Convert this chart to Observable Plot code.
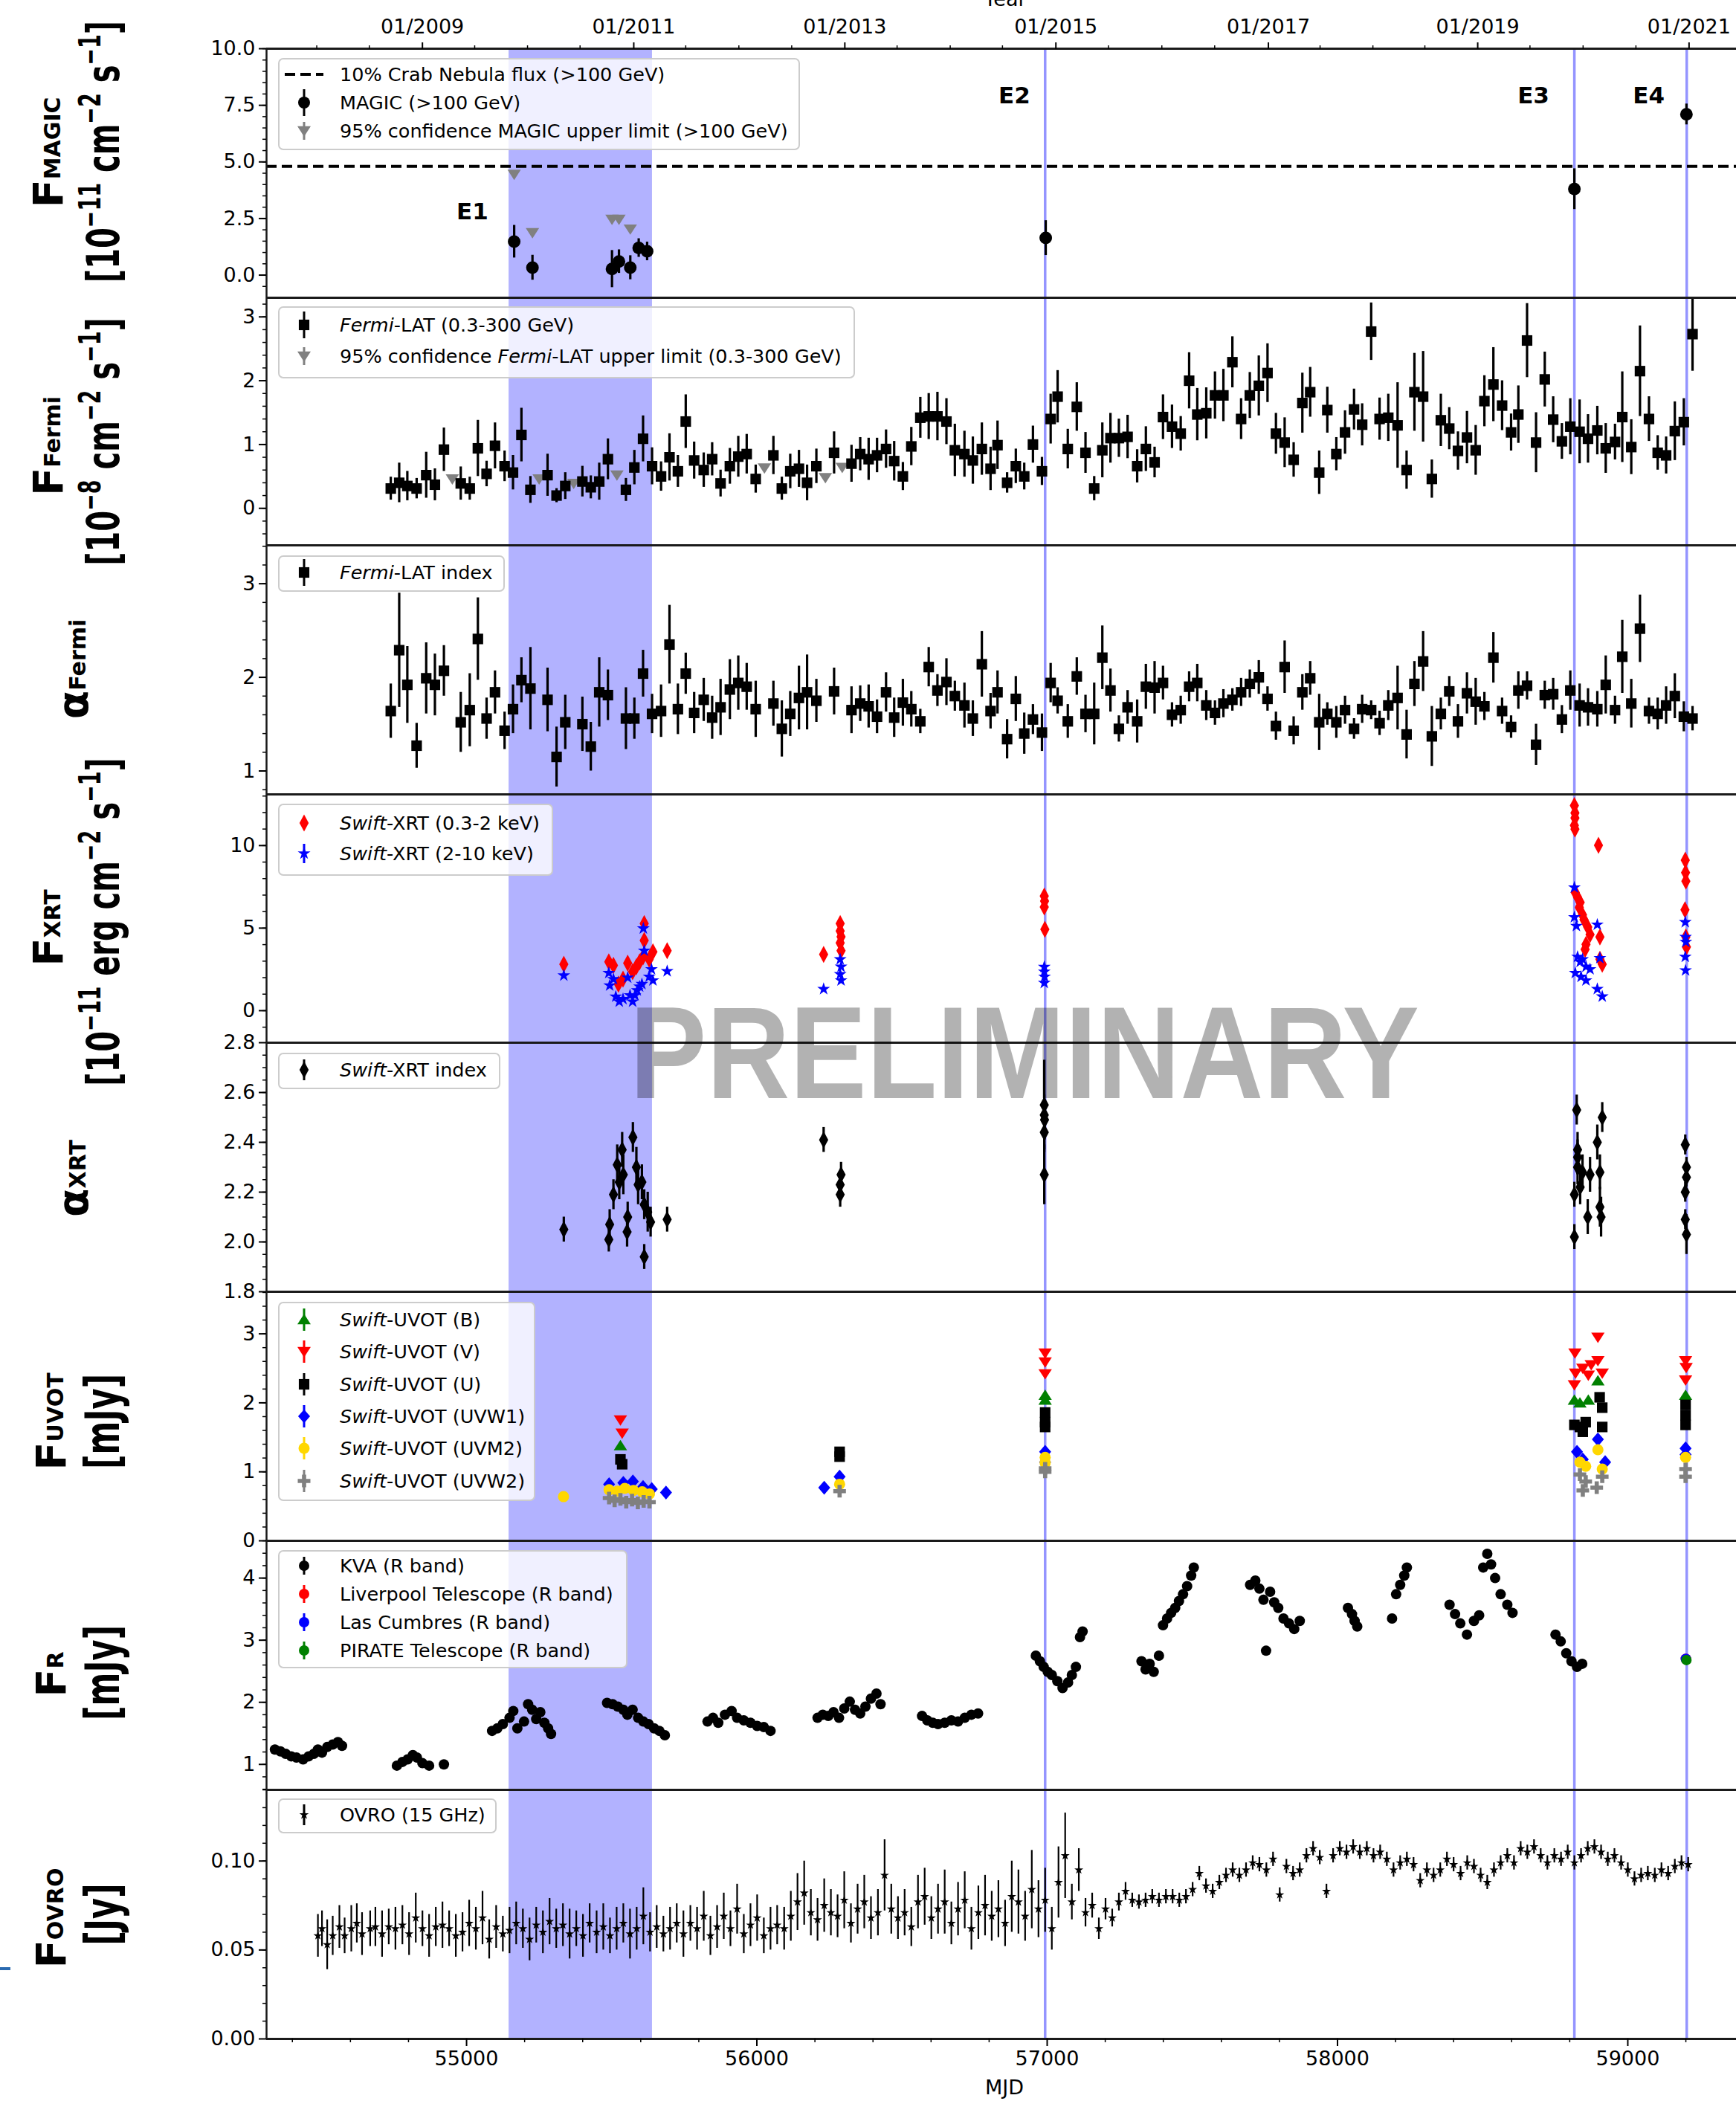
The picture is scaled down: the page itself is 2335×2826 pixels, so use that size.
<!DOCTYPE html>
<html>
<head>
<meta charset="utf-8">
<script src="https://cdn.jsdelivr.net/npm/d3@7"></script>
<script src="https://cdn.jsdelivr.net/npm/@observablehq/plot@0.6"></script>
<style>
html,body{margin:0;padding:0;background:#fff;}
#wrap{position:relative;width:2335px;height:2826px;overflow:hidden;background:#fff;}
#wrap > svg{display:block;}
</style>
</head>
<body>
<div id="wrap"></div>
<script>
// ================= DATA =================
const X_DOMAIN = [54311, 59374];
const E1_BAND = [55146, 55640];
const EVENT_MJD = [56993, 58816, 59203];
const eventNames = ["E1", "E2", "E3", "E4"];
const eventLabelMjd = [55020, 56887, 58675, 59072];
const eventLabelY = [2.8, 7.9, 7.9, 7.9];

// top (year) axis, positions
const yearTickMjd = [54848, 55576, 56303, 57030, 57762, 58483, 59211];
const yearTickLabels = ["01/2009", "01/2011", "01/2013", "01/2015", "01/2017", "01/2019", "01/2021"];
const halfYearMjd = [54484, 54665, 55028, 55210, 55391, 55755, 55938, 56120, 56483, 56666, 56846, 57211, 57395, 57577, 57940, 58122, 58301, 58663, 58846, 59028];
const mjdTicks = [55000, 56000, 57000, 58000, 59000];
const mjdMinor = [54400, 54600, 54800, 55200, 55400, 55600, 55800, 56200, 56400, 56600, 56800, 57200, 57400, 57600, 57800, 58200, 58400, 58600, 58800, 59200];

// Panel 1: MAGIC
const crabLevel = 4.8;
const magicMjd = [55164, 55227, 55501, 55525, 55564, 55593, 55622, 56995, 58816, 59202];
const magicFlux = [1.48, 0.33, 0.27, 0.60, 0.33, 1.20, 1.05, 1.64, 3.80, 7.10];
const magicErr = [0.72, 0.55, 0.82, 0.52, 0.53, 0.41, 0.41, 0.77, 0.90, 0.46];
const magicUlMjd = [55164, 55227, 55501, 55525, 55564];
const magicUl = [4.45, 1.87, 2.46, 2.46, 2.03];

// Panels 2-3: Fermi-LAT
const fermiMjd = [54739, 54768, 54796, 54828, 54861, 54891, 54922, 54980, 55011, 55039, 55069, 55098, 55131, 55160, 55189, 55220, 55279, 55310, 55340, 55399, 55428, 55457, 55487, 55549, 55578, 55608, 55639, 55670, 55699, 55728, 55755, 55784, 55817, 55846, 55875, 55907, 55936, 55965, 55996, 56057, 56086, 56115, 56145, 56173, 56205, 56266, 56326, 56356, 56385, 56414, 56445, 56473, 56503, 56532, 56563, 56592, 56622, 56653, 56682, 56715, 56744, 56775, 56805,
  56829, 56862, 56892, 56921, 56951, 56982, 57012, 57036, 57071, 57102, 57132, 57162, 57190, 57218, 57247, 57277, 57310, 57340, 57370, 57399, 57430, 57460, 57489, 57517, 57548, 57578, 57607, 57638, 57668, 57698, 57729, 57759, 57788, 57818, 57849, 57879, 57906, 57937, 57965, 57996, 58026, 58057, 58085, 58116, 58145, 58175, 58207, 58238, 58265, 58295, 58325, 58356, 58385, 58415, 58446, 58476, 58506, 58537, 58567, 58598, 58623, 58653, 58684, 58714, 58743, 58773, 58802, 58834, 58863, 58895, 58924, 58956, 58981, 59012, 59042, 59073, 59103, 59132, 59162, 59193, 59223];
const fermiFlux = [0.31, 0.40, 0.35, 0.31, 0.52, 0.37, 0.92, 0.39, 0.31, 0.94, 0.54, 0.98, 0.66, 0.56, 1.15, 0.29, 0.52, 0.20, 0.35, 0.42, 0.33, 0.42, 0.77, 0.29, 0.64, 1.09, 0.66, 0.50, 0.80, 0.58, 1.36, 0.75, 0.60, 0.77, 0.39, 0.66, 0.81, 0.85, 0.46, 0.83, 0.31, 0.58, 0.62, 0.40, 0.66, 0.87, 0.70, 0.85, 0.77, 0.83, 0.93, 0.74, 0.50, 0.97, 1.42, 1.44, 1.44, 1.36, 0.91, 0.85, 0.75, 0.93, 0.62,
  0.99, 0.40, 0.66, 0.50, 1.00, 0.58, 1.40, 1.75, 0.93, 1.59, 0.87, 0.31, 0.91, 1.10, 1.10, 1.12, 0.66, 0.93, 0.72, 1.43, 1.28, 1.17, 2.00, 1.47, 1.49, 1.77, 1.77, 2.29, 1.40, 1.77, 1.92, 2.12, 1.17, 1.03, 0.76, 1.65, 1.82, 0.56, 1.54, 0.85, 1.19, 1.55, 1.31, 2.77, 1.40, 1.42, 1.30, 0.60, 1.82, 1.75, 0.46, 1.38, 1.25, 0.90, 1.11, 0.91, 1.68, 1.94, 1.61, 1.19, 1.47, 2.63, 1.03, 2.02, 1.39, 1.05, 1.28, 1.20, 1.09, 1.22, 0.94, 1.04, 1.43, 0.96, 2.15, 1.40, 0.87, 0.83, 1.21, 1.35, 2.73];
const fermiFluxErr = [0.18, 0.31, 0.23, 0.16, 0.36, 0.25, 0.34, 0.26, 0.18, 0.44, 0.20, 0.36, 0.24, 0.27, 0.42, 0.21, 0.33, 0.11, 0.21, 0.24, 0.18, 0.29, 0.32, 0.18, 0.27, 0.36, 0.29, 0.23, 0.37, 0.25, 0.42, 0.29, 0.27, 0.26, 0.21, 0.28, 0.32, 0.31, 0.22, 0.30, 0.18, 0.27, 0.29, 0.28, 0.27, 0.33, 0.29, 0.26, 0.33, 0.27, 0.30, 0.31, 0.22, 0.30, 0.32, 0.36, 0.38, 0.36, 0.41, 0.36, 0.37, 0.41, 0.34,
  0.38, 0.16, 0.27, 0.21, 0.29, 0.22, 0.39, 0.41, 0.31, 0.38, 0.32, 0.19, 0.43, 0.39, 0.30, 0.34, 0.26, 0.35, 0.24, 0.35, 0.34, 0.27, 0.44, 0.41, 0.40, 0.37, 0.41, 0.40, 0.32, 0.36, 0.47, 0.46, 0.32, 0.39, 0.27, 0.47, 0.39, 0.34, 0.36, 0.26, 0.34, 0.32, 0.33, 0.45, 0.33, 0.37, 0.67, 0.30, 0.61, 0.71, 0.30, 0.41, 0.33, 0.30, 0.41, 0.39, 0.40, 0.58, 0.39, 0.29, 0.45, 0.58, 0.47, 0.43, 0.36, 0.28, 0.44, 0.50, 0.38, 0.38, 0.39, 0.28, 0.71, 0.43, 0.71, 0.35, 0.27, 0.29, 0.46, 0.37, 0.58];
const fermiIndex = [1.64, 2.29, 1.92, 1.27, 1.99, 1.92, 2.07, 1.52, 1.65, 2.41, 1.56, 1.84, 1.43, 1.66, 1.97, 1.88, 1.76, 1.15, 1.52, 1.50, 1.26, 1.84, 1.81, 1.56, 1.56, 2.04, 1.61, 1.64, 2.35, 1.66, 2.04, 1.62, 1.76, 1.57, 1.68, 1.87, 1.94, 1.90, 1.66, 1.72, 1.45, 1.61, 1.78, 1.84, 1.75, 1.85, 1.65, 1.72, 1.69, 1.58, 1.84, 1.57, 1.73, 1.66, 1.53, 2.11, 1.86, 1.95, 1.80, 1.70, 1.56, 2.14, 1.64,
  1.84, 1.34, 1.77, 1.40, 1.55, 1.41, 1.94, 1.75, 1.53, 2.01, 1.61, 1.61, 2.21, 1.86, 1.45, 1.68, 1.53, 1.90, 1.89, 1.94, 1.60, 1.65, 1.90, 1.94, 1.70, 1.62, 1.72, 1.76, 1.84, 1.93, 2.00, 1.77, 1.48, 2.11, 1.43, 1.84, 1.99, 1.52, 1.61, 1.52, 1.65, 1.45, 1.66, 1.65, 1.51, 1.70, 1.78, 1.39, 1.93, 2.17, 1.37, 1.61, 1.85, 1.53, 1.83, 1.74, 1.69, 2.21, 1.64, 1.47, 1.86, 1.91, 1.28, 1.81, 1.82, 1.55, 1.86, 1.70, 1.68, 1.66, 1.92, 1.65, 2.22, 1.72, 2.52, 1.64, 1.61, 1.70, 1.80, 1.58, 1.56];
const fermiIndexErr = [0.29, 0.61, 0.41, 0.24, 0.38, 0.33, 0.27, 0.32, 0.39, 0.44, 0.22, 0.23, 0.20, 0.26, 0.24, 0.44, 0.34, 0.32, 0.29, 0.29, 0.26, 0.37, 0.27, 0.33, 0.22, 0.25, 0.21, 0.28, 0.42, 0.27, 0.22, 0.22, 0.23, 0.23, 0.30, 0.32, 0.29, 0.25, 0.30, 0.24, 0.30, 0.24, 0.34, 0.40, 0.23, 0.25, 0.25, 0.19, 0.23, 0.18, 0.21, 0.21, 0.25, 0.19, 0.13, 0.21, 0.17, 0.25, 0.16, 0.24, 0.19, 0.35, 0.19,
  0.23, 0.21, 0.24, 0.22, 0.16, 0.20, 0.21, 0.14, 0.18, 0.20, 0.20, 0.33, 0.34, 0.23, 0.14, 0.18, 0.23, 0.24, 0.28, 0.18, 0.13, 0.15, 0.16, 0.20, 0.16, 0.13, 0.15, 0.12, 0.15, 0.15, 0.18, 0.13, 0.15, 0.28, 0.15, 0.19, 0.18, 0.30, 0.12, 0.17, 0.15, 0.11, 0.15, 0.10, 0.13, 0.16, 0.34, 0.26, 0.24, 0.32, 0.32, 0.17, 0.16, 0.18, 0.22, 0.25, 0.15, 0.27, 0.14, 0.12, 0.20, 0.15, 0.22, 0.15, 0.17, 0.15, 0.21, 0.23, 0.20, 0.19, 0.31, 0.15, 0.39, 0.26, 0.36, 0.14, 0.17, 0.20, 0.24, 0.16, 0.13];
const fermiUlMjd = [54951, 55250, 55369, 55518, 56026, 56236, 56294];
const fermiUl = [0.46, 0.46, 0.39, 0.52, 0.63, 0.48, 0.64];

// Panel 4: Swift-XRT fluxes
const xrtSoftMjd = [55335, 55490, 55506, 55523, 55539, 55555, 55572, 55585, 55596, 55608, 55612, 55612, 55629, 55642, 55691, 56230, 56287, 56287, 56290, 56287, 56290, 56990, 56991, 56990, 56992, 58816, 58818, 58818, 58816, 58818, 58899, 58819, 58827, 58836, 58833, 58844, 58849, 58862, 58870, 58856, 58853, 58904, 58904, 58912, 59198, 59199, 59200, 59197, 59200, 59202];
const xrtSoft = [2.81, 2.96, 2.74, 1.61, 1.91, 2.88, 2.36, 2.66, 2.96, 3.26, 4.25, 5.28, 3.11, 3.56, 3.63, 3.41, 5.28, 4.83, 4.48, 4.10, 3.63, 6.94, 6.64, 6.28, 4.93, 12.42, 11.97, 11.67, 11.22, 11.00, 10.02, 7.16, 6.86, 6.56, 6.26, 5.81, 5.51, 5.06, 4.61, 4.01, 3.71, 4.46, 3.11, 2.81, 9.11, 8.36, 7.84, 6.11, 4.46, 3.86];
const xrtHardMjd = [55335, 55490, 55493, 55506, 55514, 55526, 55539, 55555, 55563, 55572, 55580, 55588, 55596, 55604, 55609, 55612, 55629, 55637, 55642, 55691, 56230, 56287, 56290, 56287, 56290, 56990, 56990, 56991, 56990, 58816, 58816, 58823, 58895, 58827, 58836, 58844, 58856, 58870, 58819, 58839, 58856, 58904, 58895, 58912, 59198, 59199, 59200, 59198, 59199];
const xrtHard = [2.13, 2.28, 1.53, 1.91, 0.85, 0.55, 0.70, 2.00, 0.93, 0.55, 0.93, 1.23, 1.46, 1.61, 4.98, 3.63, 2.06, 2.51, 1.83, 2.39, 1.31, 3.11, 2.66, 2.21, 1.83, 2.65, 2.36, 2.06, 1.68, 7.46, 5.66, 5.13, 5.21, 3.26, 2.96, 3.11, 2.66, 2.51, 2.28, 2.05, 1.83, 3.18, 1.31, 0.86, 5.36, 4.46, 4.16, 3.26, 2.44];

// Panel 5: Swift-XRT index
const xrtIdxMjd = [55335, 55490, 55493, 55506, 55519, 55526, 55536, 55540, 55555, 55553, 55573, 55585, 55591, 55604, 55612, 55624, 55634, 55612, 55691, 56230, 56290, 56287, 56287, 56990, 56990, 56991, 56990, 56990, 58824, 58912, 58895, 58827, 58827, 58827, 58844, 58870, 58904, 58816, 58836, 58862, 58908, 58904, 58816, 59198, 59202, 59202, 59198, 59198, 59202];
const xrtIdx = [2.05, 2.01, 2.07, 2.19, 2.31, 2.24, 2.37, 2.27, 2.10, 2.04, 2.42, 2.30, 2.23, 2.24, 2.15, 2.12, 2.08, 1.94, 2.09, 2.41, 2.27, 2.23, 2.19, 2.55, 2.51, 2.49, 2.44, 2.27, 2.53, 2.50, 2.40, 2.37, 2.34, 2.30, 2.28, 2.27, 2.28, 2.19, 2.22, 2.10, 2.10, 2.14, 2.02, 2.39, 2.30, 2.26, 2.20, 2.09, 2.03];
const xrtIdxErr = [0.05, 0.05, 0.06, 0.06, 0.08, 0.07, 0.07, 0.08, 0.06, 0.06, 0.06, 0.08, 0.08, 0.07, 0.06, 0.08, 0.06, 0.05, 0.05, 0.05, 0.05, 0.05, 0.05, 0.18, 0.08, 0.08, 0.08, 0.12, 0.06, 0.06, 0.07, 0.07, 0.07, 0.07, 0.07, 0.07, 0.07, 0.05, 0.07, 0.07, 0.08, 0.08, 0.05, 0.04, 0.04, 0.04, 0.04, 0.04, 0.08];

// Panel 6: Swift-UVOT
const uvotBMjd = [55530, 56993, 56993, 58816, 58835, 58864, 58897, 59199];
const uvotB = [1.38, 2.11, 2.04, 2.04, 2.00, 2.04, 2.32, 2.11];
const uvotVMjd = [55530, 55536, 56993, 56993, 56993, 58818, 58820, 58816, 58845, 58864, 58874, 58897, 58897, 58912, 59199, 59201, 59199];
const uvotV = [1.75, 1.56, 2.72, 2.59, 2.42, 2.72, 2.43, 2.26, 2.50, 2.40, 2.55, 2.95, 2.61, 2.43, 2.61, 2.51, 2.33];
const uvotUMjd = [55530, 55536, 56285, 56285, 56993, 56993, 56993, 58816, 58835, 58855, 58845, 58903, 58912, 58912, 59199, 59199, 59199];
const uvotU = [1.18, 1.11, 1.29, 1.22, 1.86, 1.72, 1.65, 1.68, 1.65, 1.72, 1.58, 2.08, 1.93, 1.65, 1.97, 1.82, 1.68];
const uvotW1Mjd = [55491, 55540, 55573, 55608, 55638, 55687, 56232, 56285, 56993, 56993, 58825, 58845, 58897, 58922, 59199, 59199];
const uvotW1 = [0.82, 0.84, 0.86, 0.78, 0.75, 0.70, 0.77, 0.93, 1.29, 1.14, 1.29, 1.18, 1.47, 1.14, 1.34, 1.25];
const uvotM2Mjd = [55334, 55491, 55520, 55545, 55575, 55605, 55630, 56285, 56993, 56993, 58835, 58855, 58897, 58912, 59199];
const uvotM2 = [0.64, 0.74, 0.72, 0.76, 0.73, 0.71, 0.68, 0.82, 1.21, 1.13, 1.14, 1.08, 1.32, 1.04, 1.21];
const uvotW2Mjd = [55491, 55510, 55530, 55550, 55570, 55590, 55610, 55630, 56285, 56993, 56993, 58835, 58855, 58845, 58893, 58912, 59199, 59199];
const uvotW2 = [0.62, 0.58, 0.60, 0.56, 0.59, 0.55, 0.57, 0.56, 0.72, 1.05, 1.00, 0.96, 0.86, 0.73, 0.77, 0.93, 1.04, 0.93];

// Panel 7: R band
const kvaMjd = [54340, 54359, 54377, 54396, 54414, 54437, 54456, 54474, 54488, 54502, 54520, 54539, 54557, 54571, 54760, 54779, 54797, 54815, 54829, 54848, 54871, 54922, 55088, 55106, 55125, 55148, 55161, 55175, 55198, 55212, 55226, 55240, 55254, 55268, 55281, 55291, 55484, 55503, 55521, 55540, 55554, 55572, 55591, 55609, 55627, 55646, 55664, 55683, 55830, 55849, 55867, 55890, 55913, 55932, 55955, 55978, 56001, 56024, 56047, 56209, 56227, 56246, 56264, 56283, 56301, 56320, 56338, 56356, 56374, 56393, 56412, 56426, 56569, 56587, 56606, 56624, 56647, 56670, 56693, 56716, 56739, 56762, 56961, 56975, 56988, 57002, 57016, 57035, 57053, 57072, 57085, 57099, 57113, 57122, 57325, 57339, 57353, 57367, 57385, 57399, 57413, 57427, 57441, 57454, 57468, 57482, 57496, 57505, 57699, 57717, 57731, 57745, 57754, 57768, 57782, 57796, 57814, 57833, 57851, 57870, 58036, 58050, 58059, 58068, 58188, 58202, 58216, 58230, 58239, 58386, 58405, 58423, 58446, 58470, 58488, 58502, 58516, 58529, 58543, 58562, 58585, 58603, 58751, 58769, 58788, 58806, 58825, 58843];
const kvaFlux = [1.24, 1.21, 1.17, 1.13, 1.11, 1.08, 1.13, 1.17, 1.24, 1.19, 1.28, 1.32, 1.36, 1.30, 0.98, 1.04, 1.08, 1.15, 1.11, 1.02, 0.98, 1.00, 1.54, 1.58, 1.65, 1.75, 1.86, 1.58, 1.69, 1.97, 1.88, 1.73, 1.84, 1.67, 1.58, 1.49, 1.99, 1.97, 1.93, 1.88, 1.80, 1.88, 1.75, 1.69, 1.65, 1.58, 1.54, 1.47, 1.69, 1.75, 1.67, 1.80, 1.86, 1.75, 1.71, 1.67, 1.62, 1.60, 1.54, 1.75, 1.80, 1.78, 1.84, 1.75, 1.90, 2.01, 1.88, 1.82, 1.93, 2.06, 2.14, 1.97, 1.78, 1.71, 1.67, 1.65, 1.67, 1.71, 1.69, 1.75, 1.80, 1.82, 2.75, 2.66, 2.57, 2.49, 2.44, 2.34, 2.23, 2.32, 2.44, 2.57, 3.05, 3.14, 2.66, 2.53, 2.62, 2.49, 2.75, 3.24, 3.35, 3.44, 3.52, 3.63, 3.74, 3.87, 4.04, 4.17, 3.89, 3.96, 3.83, 3.65, 2.83, 3.78, 3.61, 3.52, 3.35, 3.27, 3.18, 3.31, 3.52, 3.42, 3.31, 3.22, 3.35, 3.74, 3.89, 4.04, 4.17, 3.57, 3.42, 3.27, 3.09, 3.31, 3.40, 4.17, 4.39, 4.22, 4.00, 3.74, 3.57, 3.44, 3.09, 2.98, 2.79, 2.66, 2.57, 2.62];
const liverpoolMjd = [59200];
const liverpoolFlux = [2.70];
const lasCumbresMjd = [59200];
const lasCumbresFlux = [2.70];
const pirateMjd = [59202];
const pirateFlux = [2.68];

// Panel 8: OVRO
const ovroMjd = [54488, 54502, 54520, 54539, 54562, 54580, 54603, 54622, 54640, 54668, 54686, 54709, 54732, 54755,
  54779, 54802, 54825, 54848, 54871, 54894, 54917, 54940, 54963, 54986,
  55009, 55032, 55055, 55078, 55102, 55125, 55148, 55171, 55194, 55217,
  55240, 55263, 55286, 55309, 55332, 55355, 55378, 55401, 55424, 55448,
  55471, 55494, 55517, 55540, 55563, 55586, 55609, 55632, 55655, 55678,
  55701, 55724, 55747, 55771, 55794, 55817, 55840, 55863, 55886, 55909,
  55932, 55955, 55978, 56001, 56024, 56047, 56070, 56094, 56117, 56140,
  56163, 56186, 56209, 56232, 56255, 56278, 56301, 56324, 56347, 56370,
  56393, 56417, 56440, 56463, 56486, 56509, 56532, 56555, 56578, 56601,
  56624, 56647, 56670, 56693, 56716, 56739, 56763, 56786, 56809, 56832,
  56855, 56878, 56901, 56924, 56947, 56970, 56993, 57016, 57039, 57062,
  57085, 57109, 57132, 57155, 57178, 57201, 57224, 57247, 57270, 57293,
  57316, 57339, 57362, 57385, 57409, 57432, 57455, 57478, 57501, 57524,
  57547, 57570, 57593, 57616, 57639, 57662, 57685, 57708, 57731, 57755,
  57778, 57801, 57824, 57847, 57870, 57893, 57916, 57939, 57962, 57985,
  58008, 58031, 58054, 58077, 58101, 58124, 58147, 58170, 58193, 58216,
  58239, 58262, 58285, 58308, 58331, 58354, 58377, 58400, 58424, 58447,
  58470, 58493, 58516, 58539, 58562, 58585, 58608, 58631, 58654, 58677,
  58700, 58723, 58747, 58770, 58793, 58816, 58839, 58862, 58885, 58908,
  58931, 58954, 58977, 59000, 59023, 59046, 59069, 59093, 59116, 59139,
  59162, 59185, 59208];
const ovroFlux = [0.058, 0.062, 0.053, 0.058, 0.063, 0.058, 0.062, 0.065, 0.059, 0.062, 0.063, 0.059, 0.063, 0.062,
  0.064, 0.059, 0.068, 0.062, 0.058, 0.063, 0.064, 0.062, 0.058, 0.060,
  0.065, 0.062, 0.068, 0.056, 0.063, 0.059, 0.061, 0.065, 0.062, 0.056,
  0.064, 0.060, 0.066, 0.062, 0.064, 0.059, 0.062, 0.058, 0.065, 0.060,
  0.063, 0.058, 0.062, 0.065, 0.059, 0.062, 0.069, 0.060, 0.063, 0.059,
  0.062, 0.065, 0.059, 0.065, 0.062, 0.069, 0.058, 0.063, 0.069, 0.062,
  0.073, 0.059, 0.064, 0.068, 0.058, 0.062, 0.064, 0.062, 0.069, 0.077,
  0.082, 0.071, 0.067, 0.075, 0.071, 0.069, 0.078, 0.065, 0.073, 0.077,
  0.068, 0.071, 0.092, 0.073, 0.068, 0.071, 0.063, 0.077, 0.080, 0.068,
  0.073, 0.077, 0.065, 0.073, 0.078, 0.062, 0.071, 0.075, 0.069, 0.073,
  0.065, 0.080, 0.077, 0.069, 0.084, 0.073, 0.078, 0.062, 0.088, 0.103,
  0.077, 0.095, 0.071, 0.075, 0.062, 0.073, 0.068, 0.077, 0.083, 0.078,
  0.077, 0.078, 0.080, 0.078, 0.080, 0.080, 0.078, 0.080, 0.084, 0.093,
  0.086, 0.083, 0.088, 0.092, 0.095, 0.092, 0.095, 0.099, 0.098, 0.095,
  0.101, 0.081, 0.097, 0.093, 0.095, 0.103, 0.107, 0.102, 0.083, 0.103,
  0.107, 0.105, 0.108, 0.105, 0.107, 0.103, 0.105, 0.101, 0.095, 0.099,
  0.101, 0.098, 0.089, 0.095, 0.092, 0.095, 0.101, 0.098, 0.093, 0.099,
  0.097, 0.092, 0.088, 0.095, 0.099, 0.103, 0.099, 0.107, 0.105, 0.108,
  0.103, 0.099, 0.103, 0.101, 0.105, 0.099, 0.103, 0.107, 0.108, 0.105,
  0.101, 0.103, 0.099, 0.095, 0.090, 0.092, 0.093, 0.092, 0.095, 0.093,
  0.097, 0.099, 0.098];
const ovroErr = [0.012, 0.010, 0.014, 0.011, 0.012, 0.010, 0.013, 0.011, 0.012, 0.010, 0.011, 0.013, 0.010, 0.012,
  0.011, 0.012, 0.014, 0.010, 0.012, 0.011, 0.013, 0.010, 0.012, 0.011,
  0.013, 0.012, 0.015, 0.011, 0.012, 0.010, 0.013, 0.012, 0.011, 0.012,
  0.010, 0.012, 0.013, 0.011, 0.012, 0.014, 0.010, 0.012, 0.011, 0.012,
  0.013, 0.010, 0.012, 0.011, 0.014, 0.012, 0.016, 0.011, 0.012, 0.010,
  0.012, 0.011, 0.013, 0.010, 0.012, 0.014, 0.011, 0.012, 0.013, 0.010,
  0.014, 0.011, 0.012, 0.013, 0.010, 0.012, 0.011, 0.012, 0.014, 0.016,
  0.018, 0.013, 0.012, 0.015, 0.013, 0.012, 0.016, 0.011, 0.014, 0.015,
  0.012, 0.013, 0.020, 0.014, 0.012, 0.013, 0.011, 0.015, 0.016, 0.012,
  0.014, 0.018, 0.012, 0.015, 0.016, 0.012, 0.015, 0.017, 0.014, 0.016,
  0.013, 0.020, 0.018, 0.014, 0.022, 0.016, 0.018, 0.012, 0.020, 0.024,
  0.010, 0.012, 0.008, 0.007, 0.006, 0.006, 0.005, 0.005, 0.005, 0.004,
  0.004, 0.004, 0.004, 0.004, 0.004, 0.004, 0.004, 0.004, 0.004, 0.004,
  0.004, 0.004, 0.004, 0.004, 0.004, 0.004, 0.004, 0.004, 0.004, 0.004,
  0.004, 0.004, 0.004, 0.004, 0.004, 0.004, 0.004, 0.004, 0.004, 0.004,
  0.004, 0.004, 0.004, 0.004, 0.004, 0.004, 0.004, 0.004, 0.004, 0.004,
  0.004, 0.004, 0.004, 0.004, 0.004, 0.004, 0.004, 0.004, 0.004, 0.004,
  0.004, 0.004, 0.004, 0.004, 0.004, 0.004, 0.004, 0.004, 0.004, 0.004,
  0.004, 0.004, 0.004, 0.004, 0.004, 0.004, 0.004, 0.004, 0.004, 0.004,
  0.004, 0.004, 0.004, 0.004, 0.004, 0.004, 0.004, 0.004, 0.004, 0.004,
  0.004, 0.004, 0.004];

// ================= HELPERS =================
const W = 2335, H = 2826, ML = 358;
const mk = (mjd, v, e) => mjd.map((m, i) => ({mjd: m, v: v[i], e: e ? e[i] : 0}));
const STYLE = {fontFamily: "'DejaVu Sans', sans-serif", fontSize: "27px", color: "black", background: "transparent", overflow: "visible"};

const symDown = {draw(ctx, size) { const r = Math.sqrt(size / Math.PI); ctx.moveTo(-r, -0.7 * r); ctx.lineTo(r, -0.7 * r); ctx.lineTo(0, 0.85 * r); ctx.closePath(); }};
const symUp = {draw(ctx, size) { const r = Math.sqrt(size / Math.PI); ctx.moveTo(-r, 0.7 * r); ctx.lineTo(r, 0.7 * r); ctx.lineTo(0, -0.85 * r); ctx.closePath(); }};
const symThin = {draw(ctx, size) { const r = Math.sqrt(size / Math.PI); ctx.moveTo(0, -1.15 * r); ctx.lineTo(0.62 * r, 0); ctx.lineTo(0, 1.15 * r); ctx.lineTo(-0.62 * r, 0); ctx.closePath(); }};
const symDiam = {draw(ctx, size) { const r = Math.sqrt(size / Math.PI); ctx.moveTo(0, -1.1 * r); ctx.lineTo(0.95 * r, 0); ctx.lineTo(0, 1.1 * r); ctx.lineTo(-0.95 * r, 0); ctx.closePath(); }};
const symPlus = {draw(ctx, size) { const r = Math.sqrt(size / Math.PI), b = 0.33 * r; ctx.moveTo(-b, -r); ctx.lineTo(b, -r); ctx.lineTo(b, -b); ctx.lineTo(r, -b); ctx.lineTo(r, b); ctx.lineTo(b, b); ctx.lineTo(b, r); ctx.lineTo(-b, r); ctx.lineTo(-b, b); ctx.lineTo(-r, b); ctx.lineTo(-r, -b); ctx.lineTo(-b, -b); ctx.closePath(); }};
const SYM = {circle: d3.symbolCircle, square: d3.symbolSquare, star: d3.symbolStar, down: symDown, up: symUp, thin: symThin, diam: symDiam, plus: symPlus};

const errBars = (data, stroke = "black", w = 3.2) => Plot.ruleX(data, {x: "mjd", y1: d => d.v - d.e, y2: d => d.v + d.e, stroke, strokeWidth: w, clip: true});

function panel(height, yDomain, yMajor, yMinor, yFmt, dataMarks, opts = {}) {
  const marks = [
    Plot.rect([{x1: E1_BAND[0], x2: E1_BAND[1], y1: yDomain[0], y2: yDomain[1]}], {x1: "x1", x2: "x2", y1: "y1", y2: "y2", fill: "#0000ff", fillOpacity: 0.3}),
    Plot.ruleX(EVENT_MJD, {stroke: "#0000ff", strokeOpacity: 0.42, strokeWidth: 3.5}),
    ...dataMarks,
    Plot.ruleY([yDomain[0], yDomain[1]], {stroke: "#1a1a1a", strokeWidth: 3}),
    Plot.ruleX([X_DOMAIN[0]], {stroke: "#1a1a1a", strokeWidth: 2.5}),
    Plot.axisY({ticks: yMajor, tickSize: 10, tickPadding: 5, tickFormat: yFmt, label: null, strokeWidth: 2}),
    Plot.axisY({ticks: yMinor, tickSize: 5, tickFormat: () => "", label: null, strokeWidth: 1.5}),
    ...(opts.xAxes || [])
  ];
  const xs = {domain: X_DOMAIN};
  if (!opts.xAxes) xs.axis = null;
  return Plot.plot({
    width: W, height, marginLeft: ML, marginRight: 0, marginTop: opts.mt || 0, marginBottom: opts.mb || 0,
    x: xs, y: {domain: yDomain}, style: STYLE, marks
  });
}

// ================= PANELS =================
const wrap = document.getElementById("wrap");

// 1 MAGIC
const magicData = mk(magicMjd, magicFlux, magicErr);
const magicUlData = mk(magicUlMjd, magicUl);
wrap.appendChild(panel(400, [-1, 10], [0, 2.5, 5, 7.5, 10], d3.range(-0.5, 10.01, 0.5), d3.format(".1f"), [
  Plot.ruleY([crabLevel], {stroke: "black", strokeWidth: 4, strokeDasharray: "14,7"}),
  Plot.dot(magicUlData, {x: "mjd", y: "v", symbol: symDown, r: 9, fill: "#808080", clip: true}),
  errBars(magicData),
  Plot.dot(magicData, {x: "mjd", y: "v", r: 8.5, fill: "black", clip: true}),
  Plot.text(eventNames, {x: (d, i) => eventLabelMjd[i], y: (d, i) => eventLabelY[i], text: d => d, fontSize: 31, fontWeight: "bold", fill: "black"})
], {mt: 65, xAxes: [
  Plot.axisX({anchor: "top", ticks: yearTickMjd, tickFormat: d => yearTickLabels[yearTickMjd.indexOf(d)], tickSize: 9, tickPadding: 12, label: null, strokeWidth: 2}),
  Plot.axisX({anchor: "top", ticks: halfYearMjd, tickSize: 5, tickFormat: () => "", label: null, strokeWidth: 1.5})
]}));

// 2 Fermi flux
const fermiFluxData = mk(fermiMjd, fermiFlux, fermiFluxErr);
const fermiUlData = mk(fermiUlMjd, fermiUl);
wrap.appendChild(panel(333, [-0.58, 3.3], [0, 1, 2, 3], d3.range(-0.4, 3.21, 0.2), d3.format("d"), [
  Plot.dot(fermiUlData, {x: "mjd", y: "v", symbol: symDown, r: 9, fill: "#808080", clip: true}),
  errBars(fermiFluxData),
  Plot.dot(fermiFluxData, {x: "mjd", y: "v", symbol: "square", r: 8, fill: "black", clip: true})
]));

// 3 Fermi index
const fermiIdxData = mk(fermiMjd, fermiIndex, fermiIndexErr);
wrap.appendChild(panel(335, [0.75, 3.41], [1, 2, 3], d3.range(0.8, 3.41, 0.2), d3.format("d"), [
  errBars(fermiIdxData),
  Plot.dot(fermiIdxData, {x: "mjd", y: "v", symbol: "square", r: 8, fill: "black", clip: true})
]));

// 4 XRT flux
const softData = mk(xrtSoftMjd, xrtSoft);
const hardData = mk(xrtHardMjd, xrtHard);
wrap.appendChild(panel(334, [-1.94, 13.1], [0, 5, 10], d3.range(-1, 13.01, 1), d3.format("d"), [
  Plot.dot(softData, {x: "mjd", y: "v", symbol: symThin, r: 10, fill: "red", clip: true}),
  Plot.dot(hardData, {x: "mjd", y: "v", symbol: "star", r: 5.4, fill: "blue", clip: true})
]));

// 5 XRT index
const xrtIdxData = mk(xrtIdxMjd, xrtIdx, xrtIdxErr);
wrap.appendChild(panel(335, [1.8, 2.8], [1.8, 2.0, 2.2, 2.4, 2.6, 2.8], d3.range(1.85, 2.8, 0.05), d3.format(".1f"), [
  errBars(xrtIdxData),
  Plot.dot(xrtIdxData, {x: "mjd", y: "v", symbol: symThin, r: 10, fill: "black", clip: true})
]));

// 6 UVOT
const uB = mk(uvotBMjd, uvotB), uV = mk(uvotVMjd, uvotV), uU = mk(uvotUMjd, uvotU);
const uW1 = mk(uvotW1Mjd, uvotW1), uM2 = mk(uvotM2Mjd, uvotM2), uW2 = mk(uvotW2Mjd, uvotW2);
wrap.appendChild(panel(335, [0, 3.61], [0, 1, 2, 3], d3.range(0.2, 3.61, 0.2), d3.format("d"), [
  Plot.dot(uB, {x: "mjd", y: "v", symbol: symUp, r: 9, fill: "green", clip: true}),
  Plot.dot(uV, {x: "mjd", y: "v", symbol: symDown, r: 9, fill: "red", clip: true}),
  Plot.dot(uU, {x: "mjd", y: "v", symbol: "square", r: 8, fill: "black", clip: true}),
  Plot.dot(uW1, {x: "mjd", y: "v", symbol: symDiam, r: 8.5, fill: "blue", clip: true}),
  Plot.dot(uM2, {x: "mjd", y: "v", r: 7.5, fill: "gold", clip: true}),
  Plot.dot(uW2, {x: "mjd", y: "v", symbol: symPlus, r: 8.5, fill: "gray", clip: true})
]));

// 7 R band
const kvaData = mk(kvaMjd, kvaFlux);
wrap.appendChild(panel(335, [0.59, 4.6], [1, 2, 3, 4], d3.range(0.6, 4.61, 0.2), d3.format("d"), [
  Plot.dot(kvaData, {x: "mjd", y: "v", r: 7, fill: "black", clip: true}),
  Plot.dot(mk(liverpoolMjd, liverpoolFlux), {x: "mjd", y: "v", r: 7, fill: "red", clip: true}),
  Plot.dot(mk(lasCumbresMjd, lasCumbresFlux), {x: "mjd", y: "v", r: 7, fill: "blue", clip: true}),
  Plot.dot(mk(pirateMjd, pirateFlux), {x: "mjd", y: "v", r: 7, fill: "green", clip: true})
]));

// 8 OVRO
const ovroData = mk(ovroMjd, ovroFlux, ovroErr);
wrap.appendChild(panel(419, [0, 0.14], [0, 0.05, 0.10], d3.range(0.01, 0.141, 0.01), d3.format(".2f"), [
  errBars(ovroData, "black", 2.2),
  Plot.dot(ovroData, {x: "mjd", y: "v", symbol: "star", r: 3.8, fill: "black", clip: true})
], {mb: 84, xAxes: [
  Plot.axisX({anchor: "bottom", ticks: mjdTicks, tickFormat: d => String(d), tickSize: 10, tickPadding: 6, label: null, strokeWidth: 2}),
  Plot.axisX({anchor: "bottom", ticks: mjdMinor, tickSize: 5, tickFormat: () => "", label: null, strokeWidth: 1.5})
]}));

// ================= OVERLAY (labels, legends, watermark) =================
const ov = d3.select("#wrap").append("svg")
  .attr("width", W).attr("height", H)
  .style("position", "absolute").style("left", "0px").style("top", "0px")
  .style("pointer-events", "none")
  .attr("font-family", "'DejaVu Sans', sans-serif");

function yLabel(x, y, parts, sy = 1) {
  const t = ov.append("text")
    .attr("transform", `translate(${x},${y}) rotate(-90) scale(1,${sy})`)
    .attr("text-anchor", "middle").attr("font-weight", "bold").attr("fill", "black");
  for (const p of parts) {
    const ts = t.append("tspan").attr("font-size", p.s).text(p.t);
    if (p.dy) ts.attr("dy", p.dy);
  }
}
function unitLine(pieces, big = 40) {
  const out = [];
  for (const [txt, sp] of pieces) {
    out.push({t: txt, s: big, dy: out.length && out[out.length - 1].sup ? 17 : 0});
    if (sp) out.push({t: sp, s: 27, dy: -17, sup: true});
  }
  return out;
}
yLabel(84, 205, [{t: "F", s: 56}, {t: "MAGIC", s: 30, dy: -3}]);
yLabel(160, 204, unitLine([["[10", "−11"], [" cm", "−2"], [" s", "−1"], ["]", null]]), 1.5);
yLabel(84, 600, [{t: "F", s: 56}, {t: "Fermi", s: 30, dy: -3}]);
yLabel(160, 594, unitLine([["[10", "−8"], [" cm", "−2"], [" s", "−1"], ["]", null]]), 1.5);
yLabel(118, 900, [{t: "α", s: 56}, {t: "Fermi", s: 30, dy: -3}]);
yLabel(84, 1248, [{t: "F", s: 56}, {t: "XRT", s: 30, dy: -3}]);
yLabel(160, 1240, unitLine([["[10", "−11"], [" erg cm", "−2"], [" s", "−1"], ["]", null]]), 1.5);
yLabel(118, 1585, [{t: "α", s: 56}, {t: "XRT", s: 30, dy: -3}]);
yLabel(88, 1912, [{t: "F", s: 56}, {t: "UVOT", s: 30, dy: -3}]);
yLabel(160, 1912, [{t: "[mJy]", s: 43}], 1.5);
yLabel(88, 2252, [{t: "F", s: 56}, {t: "R", s: 30, dy: -3}]);
yLabel(160, 2250, [{t: "[mJy]", s: 43}], 1.5);
yLabel(88, 2580, [{t: "F", s: 56}, {t: "OVRO", s: 30, dy: -3}]);
yLabel(160, 2575, [{t: "[Jy]", s: 43}], 1.5);

ov.append("text").attr("x", 1352).attr("y", 8).attr("text-anchor", "middle").attr("font-size", 27).text("Year");
ov.append("text").attr("x", 1351).attr("y", 2817).attr("text-anchor", "middle").attr("font-size", 27).text("MJD");

function legendSym(g, s, x, y) {
  if (s.dash) {
    g.append("line").attr("x1", x - 26).attr("x2", x + 26).attr("y1", y).attr("y2", y)
      .attr("stroke", "black").attr("stroke-width", 4).attr("stroke-dasharray", "14,7");
    return;
  }
  if (s.bar) g.append("line").attr("x1", x).attr("x2", x).attr("y1", y - s.bar).attr("y2", y + s.bar)
    .attr("stroke", s.color).attr("stroke-width", 3);
  g.append("path").attr("d", d3.symbol(SYM[s.shape], Math.PI * s.r * s.r)())
    .attr("transform", `translate(${x},${y})`).attr("fill", s.color);
}
function legend(x, y, w, h, entries) {
  const g = ov.append("g");
  g.append("rect").attr("x", x).attr("y", y).attr("width", w).attr("height", h).attr("rx", 6)
    .attr("fill", "white").attr("fill-opacity", 0.8).attr("stroke", "#cccccc").attr("stroke-width", 2);
  for (const e of entries) {
    legendSym(g, e.sym, 409, e.y);
    const t = g.append("text").attr("x", 457).attr("y", e.y).attr("dy", "0.36em").attr("font-size", 25.5).attr("fill", "black");
    for (const seg of e.text) {
      const ts = t.append("tspan").text(seg.t);
      if (seg.i) ts.attr("font-style", "italic");
    }
  }
}
const T = s => ({t: s});
const I = s => ({t: s, i: true});
legend(375, 79, 700, 122, [
  {y: 100, sym: {dash: true}, text: [T("10% Crab Nebula flux (>100 GeV)")]},
  {y: 138, sym: {shape: "circle", r: 8, color: "black", bar: 18}, text: [T("MAGIC (>100 GeV)")]},
  {y: 176, sym: {shape: "down", r: 9, color: "#808080", bar: 12}, text: [T("95% confidence MAGIC upper limit (>100 GeV)")]}
]);
legend(375, 413, 774, 95, [
  {y: 437, sym: {shape: "square", r: 8, color: "black", bar: 18}, text: [I("Fermi"), T("-LAT (0.3-300 GeV)")]},
  {y: 479, sym: {shape: "down", r: 9, color: "#808080", bar: 12}, text: [T("95% confidence "), I("Fermi"), T("-LAT upper limit (0.3-300 GeV)")]}
]);
legend(375, 748, 303, 47, [
  {y: 770, sym: {shape: "square", r: 8, color: "black", bar: 18}, text: [I("Fermi"), T("-LAT index")]}
]);
legend(375, 1082, 368, 95, [
  {y: 1107, sym: {shape: "thin", r: 10, color: "red"}, text: [I("Swift"), T("-XRT (0.3-2 keV)")]},
  {y: 1148, sym: {shape: "star", r: 5.4, color: "blue", bar: 13}, text: [I("Swift"), T("-XRT (2-10 keV)")]}
]);
legend(375, 1417, 297, 47, [
  {y: 1439, sym: {shape: "thin", r: 10, color: "black", bar: 14}, text: [I("Swift"), T("-XRT index")]}
]);
legend(375, 1752, 344, 266, [
  {y: 1775, sym: {shape: "up", r: 9, color: "green", bar: 15}, text: [I("Swift"), T("-UVOT (B)")]},
  {y: 1818, sym: {shape: "down", r: 9, color: "red", bar: 15}, text: [I("Swift"), T("-UVOT (V)")]},
  {y: 1862, sym: {shape: "square", r: 8, color: "black", bar: 15}, text: [I("Swift"), T("-UVOT (U)")]},
  {y: 1905, sym: {shape: "diam", r: 8.5, color: "blue", bar: 15}, text: [I("Swift"), T("-UVOT (UVW1)")]},
  {y: 1948, sym: {shape: "circle", r: 7.5, color: "gold", bar: 15}, text: [I("Swift"), T("-UVOT (UVM2)")]},
  {y: 1992, sym: {shape: "plus", r: 8.5, color: "gray", bar: 15}, text: [I("Swift"), T("-UVOT (UVW2)")]}
]);
legend(375, 2086, 468, 157, [
  {y: 2106, sym: {shape: "circle", r: 7, color: "black", bar: 12}, text: [T("KVA (R band)")]},
  {y: 2144, sym: {shape: "circle", r: 7, color: "red", bar: 12}, text: [T("Liverpool Telescope (R band)")]},
  {y: 2182, sym: {shape: "circle", r: 7, color: "blue", bar: 12}, text: [T("Las Cumbres (R band)")]},
  {y: 2220, sym: {shape: "circle", r: 7, color: "green", bar: 12}, text: [T("PIRATE Telescope (R band)")]}
]);
legend(375, 2420, 292, 45, [
  {y: 2441, sym: {shape: "star", r: 4, color: "black", bar: 14}, text: [T("OVRO (15 GHz)")]}
]);

ov.append("text").attr("transform", "translate(1378,1477) scale(1,1.14)")
  .attr("text-anchor", "middle").attr("font-family", "'Liberation Sans', Arial, sans-serif")
  .attr("font-weight", "bold").attr("font-size", 155).attr("fill", "black").attr("fill-opacity", 0.3)
  .text("PRELIMINARY");

ov.append("rect").attr("x", 0).attr("y", 2646).attr("width", 14).attr("height", 4).attr("fill", "#2a6ab0");
</script>
</body>
</html>
